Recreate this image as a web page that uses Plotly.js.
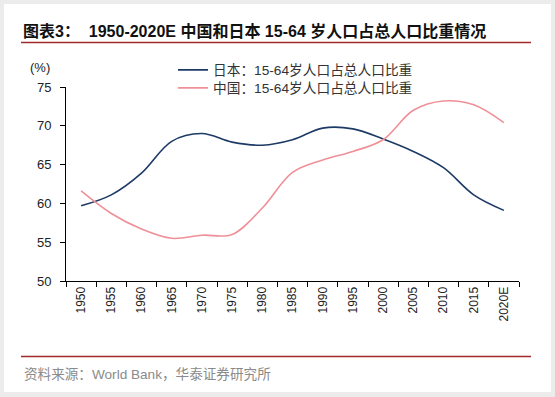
<!DOCTYPE html>
<html><head><meta charset="utf-8">
<script src="https://cdn.plot.ly/plotly-3.0.1.min.js"></script>
<style>html,body{margin:0;padding:0;background:#ececec;}#chart{width:555px;height:397px;}</style>
</head><body><div id="chart"></div>
<script>
const years = ["1950","1955","1960","1965","1970","1975","1980","1985","1990","1995","2000","2005","2010","2015","2020E"];
const japan = [59.7,61.1,63.9,68.0,69.0,67.9,67.5,68.2,69.7,69.6,68.3,66.7,64.6,61.1,59.1];
const china = [61.6,58.7,56.7,55.5,55.9,56.0,59.4,64.0,65.6,66.7,68.2,72.0,73.2,72.7,70.4];
const yTicks = [50,55,60,65,70,75];

const L=66,R=519,T=87,B=281,W=R-L,H=B-T;
const px=x=>(x-L)/W, py=y=>(B-y)/H;

const font="Liberation Sans, Arial, Noto Sans CJK SC, sans-serif";
const traces=[
 {x:years,y:japan,name:"日本：15-64岁人口占总人口比重",type:"scatter",mode:"lines",legend:"legend",
  line:{color:"#1d3a66",width:1.6,shape:"spline",smoothing:1}},
 {x:years,y:china,name:"中国：15-64岁人口占总人口比重",type:"scatter",mode:"lines",legend:"legend2",
  line:{color:"#ef9098",width:1.6,shape:"spline",smoothing:1}}
];
const legBase={xanchor:"left",yanchor:"middle",bgcolor:"rgba(0,0,0,0)",borderwidth:0,
   font:{family:font,size:13.7,color:"#333"},itemwidth:30};
const layout={
 width:555,height:397,
 margin:{l:L,r:555-R,t:T,b:397-B,pad:0},
 paper_bgcolor:"#ececec",plot_bgcolor:"rgba(0,0,0,0)",
 font:{family:font,size:12,color:"#222"},
 showlegend:true,
 legend:Object.assign({x:px(173),y:py(70)},legBase),
 legend2:Object.assign({x:px(173),y:py(88)},legBase),
 xaxis:{type:"category",range:[-0.5,14.5],showline:true,linecolor:"#000",linewidth:1,
   ticks:"outside",tickson:"boundaries",ticklen:5,tickcolor:"#000",tickangle:-90,
   tickfont:{family:font,size:12,color:"#222"},showgrid:false,zeroline:false,fixedrange:true},
 yaxis:{range:[50,75],tickvals:yTicks,showline:true,linecolor:"#000",linewidth:1,
   ticks:"outside",ticklen:5,tickcolor:"#000",ticklabelstandoff:6,
   tickfont:{family:font,size:13,color:"#222"},showgrid:false,zeroline:false,fixedrange:true},
 shapes:[
  {type:"rect",xref:"paper",yref:"paper",x0:px(4),x1:px(551),y0:py(4),y1:py(392),
   fillcolor:"#ffffff",line:{width:0},layer:"below"},
  {type:"line",xref:"paper",yref:"paper",x0:px(21),x1:px(531),y0:py(42.5),y1:py(42.5),
   line:{color:"#a32a2a",width:1.3}},
  {type:"line",xref:"paper",yref:"paper",x0:px(21),x1:px(531),y0:py(356.5),y1:py(356.5),
   line:{color:"#a32a2a",width:1.3}}
 ],
 annotations:[
  {text:"<b>图表3：  1950-2020E 中国和日本 15-64 岁人口占总人口比重情况</b>",xref:"paper",yref:"paper",
   x:px(21),y:py(31),xanchor:"left",yanchor:"middle",showarrow:false,
   font:{family:font,size:16,color:"#111"}},
  {text:"(%)",xref:"paper",yref:"paper",x:px(52),y:py(68),xanchor:"right",yanchor:"middle",showarrow:false,
   font:{family:font,size:13,color:"#222"}},
  {text:"资料来源：World Bank，华泰证券研究所",xref:"paper",yref:"paper",
   x:px(22),y:py(374),xanchor:"left",yanchor:"middle",showarrow:false,
   font:{family:font,size:13.6,color:"#8a8a8a"}}
 ]
};
Plotly.newPlot("chart",traces,layout,{displayModeBar:false,staticPlot:true});
</script></body></html>
